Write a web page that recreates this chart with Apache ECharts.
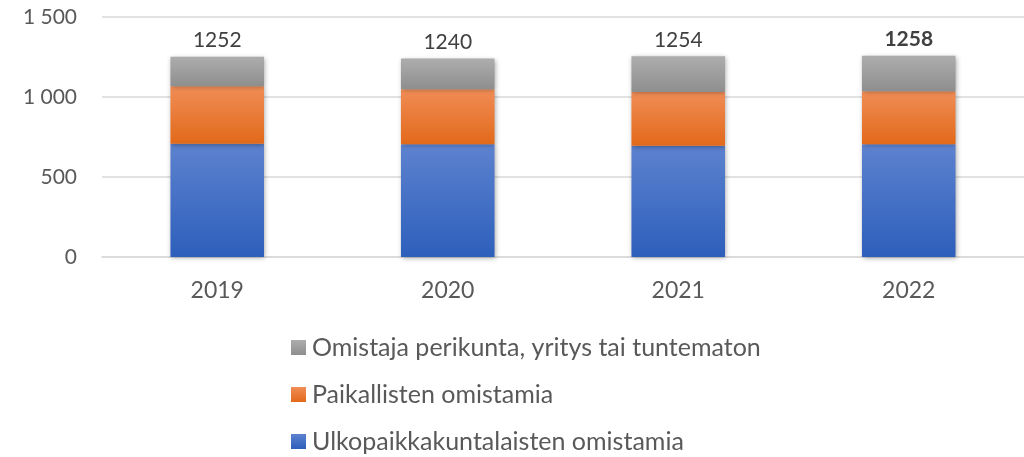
<!DOCTYPE html>
<html>
<head>
<meta charset="utf-8">
<script src="https://cdn.jsdelivr.net/npm/echarts@6/dist/echarts.min.js"></script>
<style>
  html, body { margin: 0; padding: 0; background: #fff; }
  #chart { width: 1024px; height: 457px; }
</style>
</head>
<body>
<div id="chart"></div>
<script>
const years = ['2019', '2020', '2021', '2022']
const ulkopaikkakuntalaiset = [708, 704, 696, 704]
const paikalliset = [359, 344, 335, 332]
const muut = [185, 192, 223, 222]
const totals = [1252, 1240, 1254, 1258]

const font = 'Lato, "Open Sans", sans-serif'

function grad (top, bottom) {
  return new echarts.graphic.LinearGradient(0, 0, 0, 1, [
    { offset: 0, color: top },
    { offset: 1, color: bottom }
  ])
}

const shadow = {
  shadowBlur: 5,
  shadowColor: 'rgba(0,0,0,0.35)',
  shadowOffsetX: 1,
  shadowOffsetY: 1
}

const chart = echarts.init(document.getElementById('chart'))
chart.setOption({
  animation: false,
  grid: {
    left: 102,
    top: 17,
    width: 927,
    height: 240
  },
  legend: {
    orient: 'vertical',
    left: 286,
    top: 330,
    height: 130,
    icon: 'rect',
    itemWidth: 15,
    itemHeight: 15,
    itemGap: 22,
    data: ['Omistaja perikunta, yritys tai tuntematon', 'Paikallisten omistamia', 'Ulkopaikkakuntalaisten omistamia'],
    textStyle: {
      fontFamily: font,
      fontSize: 25,
      color: '#595959',
      lineHeight: 24,
      padding: [0, 0, 0, 1]
    }
  },
  xAxis: {
    type: 'category',
    data: years,
    axisLine: { show: true, lineStyle: { color: '#d9d9d9', width: 1.5 } },
    axisTick: { show: false },
    axisLabel: {
      fontFamily: font,
      fontSize: 23,
      color: '#595959',
      margin: 22
    }
  },
  yAxis: {
    type: 'value',
    min: 0,
    max: 1500,
    interval: 500,
    axisLine: { show: false },
    axisTick: { show: false },
    splitLine: { lineStyle: { color: '#d9d9d9', width: 1.5 } },
    axisLabel: {
      fontFamily: font,
      fontSize: 21,
      color: '#595959',
      margin: 25,
      formatter: v => String(v).replace(/\B(?=(\d{3})+(?!\d))/g, ' ')
    }
  },
  series: [
    {
      name: 'Ulkopaikkakuntalaisten omistamia',
      type: 'bar',
      stack: 'total',
      barWidth: '40.6%',
      data: ulkopaikkakuntalaiset,
      itemStyle: Object.assign({ color: grad('#5d82cf', '#2d5fbb') }, shadow)
    },
    {
      name: 'Paikallisten omistamia',
      type: 'bar',
      stack: 'total',
      data: paikalliset,
      itemStyle: Object.assign({ color: grad('#f08d56', '#e2691a') }, shadow)
    },
    {
      name: 'Omistaja perikunta, yritys tai tuntematon',
      type: 'bar',
      stack: 'total',
      data: muut.map((v, i) => ({
        value: v,
        label: { fontWeight: i === 3 ? 'bold' : 'normal' }
      })),
      itemStyle: Object.assign({ color: grad('#adadad', '#8e8e8e') }, shadow),
      label: {
        show: true,
        position: 'top',
        distance: 6,
        fontFamily: font,
        fontSize: 21,
        color: '#404040',
        formatter: p => totals[p.dataIndex]
      }
    }
  ]
})
</script>
</body>
</html>
